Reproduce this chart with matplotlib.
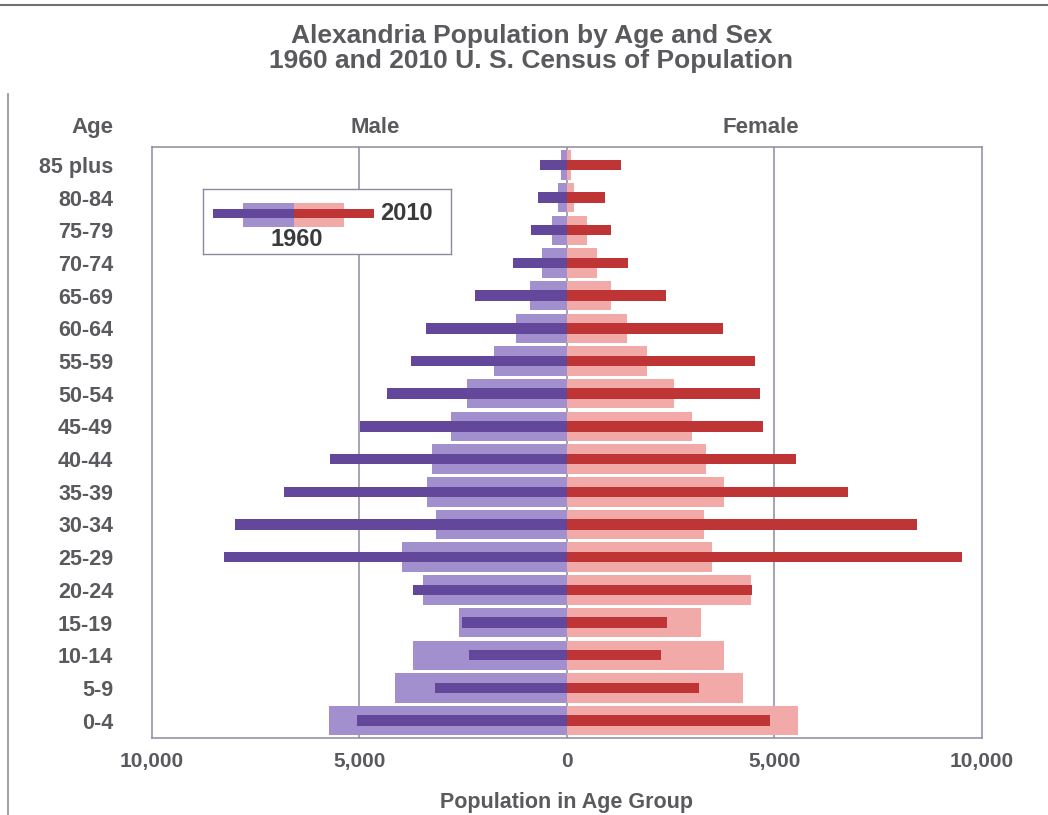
import matplotlib
matplotlib.use("Agg")
import matplotlib.pyplot as plt
import numpy as np

plt.rcParams['font.family'] = ['Liberation Sans', 'DejaVu Sans']
plt.rcParams['font.weight'] = 'bold'

# age groups, youngest first (bottom of the pyramid)
ages = ['0-4', '5-9', '10-14', '15-19', '20-24', '25-29', '30-34', '35-39',
        '40-44', '45-49', '50-54', '55-59', '60-64', '65-69', '70-74',
        '75-79', '80-84', '85 plus']

male_1960 = [5730, 4150, 3720, 2590, 3480, 3980, 3150, 3370, 3250, 2800,
             2400, 1760, 1240, 900, 600, 360, 220, 150]
female_1960 = [5560, 4250, 3780, 3230, 4440, 3490, 3290, 3790, 3350, 3010,
               2580, 1930, 1440, 1060, 730, 480, 170, 90]
male_2010 = [5070, 3170, 2370, 2540, 3700, 8260, 8000, 6820, 5710, 4980,
             4340, 3750, 3400, 2220, 1300, 870, 700, 650]
female_2010 = [4900, 3170, 2260, 2410, 4450, 9530, 8440, 6780, 5510, 4730,
               4660, 4540, 3770, 2380, 1480, 1070, 920, 1300]

xticks = [-10000, -5000, 0, 5000, 10000]
xtick_labels = ['10,000', '5,000', '0', '5,000', '10,000']

light_purple = '#a28fce'
dark_purple = '#62479b'
light_red = '#f2aaa8'
dark_red = '#bf3434'
text_col = '#5a5a5e'
grid_col = '#8e8aa2'

fig = plt.figure(figsize=(10.48, 8.15), dpi=100)
ax = fig.add_axes([0.145, 0.0945, 0.792, 0.7249])

y = np.arange(len(ages))
m60 = -np.array(male_1960)
m10 = -np.array(male_2010)

ax.barh(y, m60, height=0.9, color=light_purple, zorder=2)
ax.barh(y, female_1960, height=0.9, color=light_red, zorder=2)
ax.barh(y, m10, height=0.32, color=dark_purple, zorder=3)
ax.barh(y, female_2010, height=0.32, color=dark_red, zorder=3)

for xv in [-5000, 0, 5000]:
    ax.axvline(xv, color=grid_col, lw=1.1, zorder=1)

ax.set_xlim(-10000, 10000)
ax.set_ylim(-0.53, len(ages) - 0.46)
ax.set_yticks(y)
ax.set_yticklabels(ages)
ax.set_xticks(xticks)
ax.set_xticklabels(xtick_labels)
ax.tick_params(axis='y', length=0, pad=28, labelsize=15.5, labelcolor=text_col)
ax.tick_params(axis='x', length=0, pad=10, labelsize=15, labelcolor=text_col)
for s in ax.spines.values():
    s.set_color(grid_col)
    s.set_linewidth(1.1)

ax.set_xlabel('Population in Age Group', fontsize=15.5, color=text_col,
              labelpad=15, fontweight='bold')

fig.text(0.507, 0.956, 'Alexandria Population by Age and Sex',
         ha='center', va='center', fontsize=19, color=text_col, fontweight='bold')
fig.text(0.507, 0.925, '1960 and 2010 U. S. Census of Population',
         ha='center', va='center', fontsize=19, color=text_col, fontweight='bold')
fig.text(0.088, 0.844, 'Age', ha='center', va='center', fontsize=16, color=text_col)
fig.text(0.358, 0.844, 'Male', ha='center', va='center', fontsize=16, color=text_col)
fig.text(0.726, 0.844, 'Female', ha='center', va='center', fontsize=16, color=text_col)

# scanned page border lines
fig.add_artist(plt.Line2D([0.0, 1.0], [0.994, 0.994], color='#707070', lw=1.5))
fig.add_artist(plt.Line2D([0.008, 0.008], [0.0, 0.885], color='#909090', lw=1.2))

# custom legend: a miniature of the bar pair
lg = fig.add_axes([0.1937, 0.6883, 0.2366, 0.0798])
lg.set_xlim(0, 248)
lg.set_ylim(65, 0)
lg.set_xticks([])
lg.set_yticks([])
for s in lg.spines.values():
    s.set_color(grid_col)
    s.set_linewidth(1.0)
lg.barh([25.7], [51], left=[40], height=24, color=light_purple)
lg.barh([25.7], [50], left=[91], height=24, color=light_red)
lg.barh([24.3], [81], left=[10], height=8.5, color=dark_purple)
lg.barh([24.3], [80], left=[91], height=8.5, color=dark_red)
lg.text(177, 24, '2010', ha='left', va='center', fontsize=17, color='#3a3a3a')
lg.text(94, 50, '1960', ha='center', va='center', fontsize=17, color='#3a3a3a')

fig.savefig('out.png', dpi=100)
